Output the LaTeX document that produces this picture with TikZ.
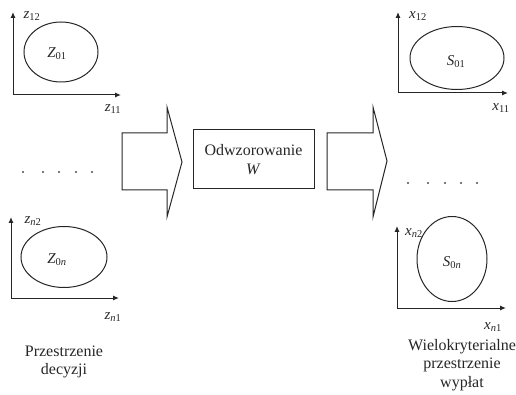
\documentclass[tikz,border=0pt]{standalone}
\usepackage{fontspec}
\setmainfont{Liberation Serif}
\usetikzlibrary{arrows.meta,shapes.geometric}
\begin{document}
\begin{tikzpicture}[x=1pt,y=-1pt,
  line/.style={line width=1pt, draw=black!85},
  axis/.style={line, -{Latex[length=6pt,width=5pt]}},
  lbl/.style={font=\fontsize{15}{17}\selectfont, inner sep=0pt, text=black!85},
  captxt/.style={font=\fontsize{16}{18.5}\selectfont, align=center, inner sep=0pt, text=black!85},
  dot/.style={circle, fill=black!70, inner sep=0pt, minimum size=2.2pt}]
\useasboundingbox (0,0) rectangle (516,395);
% top-left
\coordinate (o1) at (13,95);
\coordinate (y1) at (13,12);
\coordinate (x1) at (121,95);
\draw[axis] (o1) -- (y1);
\draw[axis] (o1) -- (x1);
\node[line, ellipse, draw, minimum width=74pt, minimum height=60pt, inner sep=0pt] (e1) at (61,52) {};
\node[lbl] (t1) at (57,54) {\textit{Z}\textsubscript{01}};
\node[lbl] (a12) at (32,16) {\textit{z}\textsubscript{12}};
\node[lbl] (a11) at (113,109) {\textit{z}\textsubscript{11}};
% bottom-left
\coordinate (o2) at (11,298);
\coordinate (y2) at (11,217);
\coordinate (x2) at (119,298);
\draw[axis] (o2) -- (y2);
\draw[axis] (o2) -- (x2);
\node[line, ellipse, draw, minimum width=86pt, minimum height=61pt, inner sep=0pt] (e2) at (64,257) {};
\node[lbl] (t2) at (57,260) {\textit{Z}\textsubscript{0\textit{n}}};
\node[lbl] (an2) at (33,221) {\textit{z}\textsubscript{\textit{n}2}};
\node[lbl] (an1) at (113,317) {\textit{z}\textsubscript{\textit{n}1}};
\node[captxt] (c1) at (64,362) {Przestrzenie\\decyzji};
% top-right
\coordinate (o3) at (398,93);
\coordinate (y3) at (398,12);
\coordinate (x3) at (508,93);
\draw[axis] (o3) -- (y3);
\draw[axis] (o3) -- (x3);
\node[line, ellipse, draw, minimum width=94pt, minimum height=63pt, inner sep=0pt] (e3) at (457,58) {};
\node[lbl] (t3) at (456,62) {\textit{S}\textsubscript{01}};
\node[lbl] (b12) at (418,16) {\textit{x}\textsubscript{12}};
\node[lbl] (b11) at (501,108) {\textit{x}\textsubscript{11}};
% bottom-right
\coordinate (o4) at (397,308);
\coordinate (y4) at (397,226);
\coordinate (x4) at (506,308);
\draw[axis] (o4) -- (y4);
\draw[axis] (o4) -- (x4);
\node[line, ellipse, draw, minimum width=70pt, minimum height=85pt, inner sep=0pt] (e4) at (452,259) {};
\node[lbl] (t4) at (452,263) {\textit{S}\textsubscript{0\textit{n}}};
\node[lbl] (bn2) at (414,233) {\textit{x}\textsubscript{\textit{n}2}};
\node[lbl] (bn1) at (493,327) {\textit{x}\textsubscript{\textit{n}1}};
\node[captxt] (c2) at (462,365) {Wielokryterialne\\przestrzenie\\wypłat};
% middle
\draw[line, line join=miter] (122,133) -- (167,133) -- (167,107) -- (182,162) -- (167,217) -- (167,190) -- (122,190) -- cycle;
\draw[line, line join=miter] (327,133) -- (373,133) -- (373,107) -- (387,161) -- (373,217) -- (373,190) -- (327,190) -- cycle;
\node[line, draw, minimum width=121pt, minimum height=59pt, captxt, inner sep=0pt] (w) at (253.5,159.5) {Odwzorowanie\\\textit{W}};
% dots
\foreach \x [count=\i] in {23,43,59,76,92} \node[dot] (dl\i) at (\x,172) {};
\foreach \x [count=\i] in {408,428,445,461,477} \node[dot] (dr\i) at (\x,183) {};
\end{tikzpicture}
\end{document}
